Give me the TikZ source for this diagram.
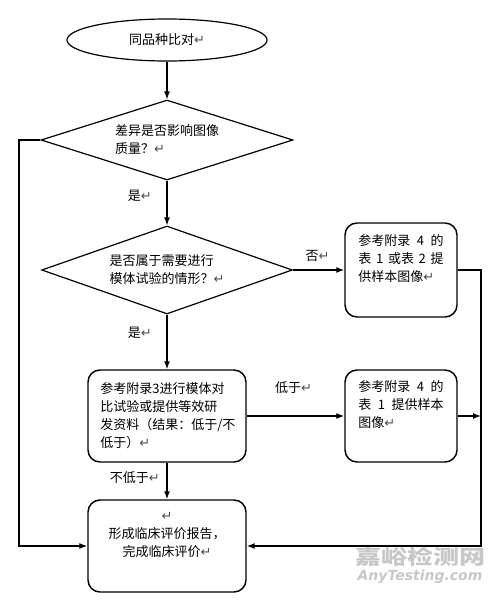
\documentclass[tikz,border=0pt]{standalone}
\usepackage{fontspec}
\setmainfont{Noto Sans CJK SC}
\newfontfamily\symfont{DejaVu Sans}
\usetikzlibrary{shapes.geometric}
\usetikzlibrary{positioning}
\usetikzlibrary{arrows.meta}
\newcommand*{\ret}{{\symfont\color{black!70}↵}}

\begin{document}
\begin{tikzpicture}[
		x=0.75pt,
		y=-0.75pt,
		font=\fontsize{9.75pt}{13.5pt}\selectfont,
		line width=0.9pt,
		>={Latex[length=6pt,width=4.5pt]},
		start/.style={ellipse, draw, minimum width=150pt, minimum height=31.5pt, inner sep=0pt},
		decision/.style={diamond, draw, aspect=3, inner sep=0pt, align=left},
		process/.style={rectangle, draw, rounded corners=9pt, line width=1.1pt, minimum height=69pt},
		lbl/.style={inner sep=2pt},
		wm/.style={text=black!22, inner sep=0pt}
	]
		\useasboundingbox (0,0) rectangle (500,603);

		\node[start] (cmp) at (167,40) {同品种比对\ret};
		\node[decision, minimum width=189pt, minimum height=60pt] (diff) at (167,140) {差异是否影响图像\\质量？\ret};
		\node[decision, minimum width=188pt, minimum height=66pt] (need) at (167,270) {是否属于需要进行\\模体试验的情形？\ret};
		\node[process, minimum width=84pt, minimum height=70.5pt, text width=64pt, align=left] (tab12) at (401,270) {参考附录\hfill 4\hfill 的\\表\hfill 1\hfill 或表\hfill 2\hfill 提\\供样本图像\ret\\\strut};
		\node[process, minimum width=118.5pt, text width=100pt, align=left] (test) at (167,416) {参考附录3进行模体对\\比试验或提供等效研\\发资料（结果：低于/不\\低于）\ret};
		\node[process, minimum width=84pt, text width=64pt, align=left] (tab1) at (401,416) {参考附录\hfill 4\hfill 的\\表\hfill 1\hfill 提供样本\\图像\ret\\\strut};
		\node[process, minimum width=118.5pt, text width=100pt, align=center] (report) at (167,546) {\ret\\形成临床评价报告，\\完成临床评价\ret\\\strut};

		\coordinate (lt) at (19,140);
		\coordinate (rt) at (481,270);

		\draw[->] (cmp) -- (diff);
		\draw[->] (diff) -- node[lbl, left=9pt, pos=0.33] {是\ret} (need);
		\draw[->] (need) -- node[lbl, above=4pt, pos=0.48] {否\ret} (tab12);
		\draw[->] (need) -- node[lbl, left=9pt, pos=0.34] {是\ret} (test);
		\draw[->] (test) -- node[lbl, above=14pt, pos=0.48] {低于\ret} (tab1);
		\draw[->] (test) -- node[lbl, left=3pt, pos=0.42] {不低于\ret} (report);
		\draw[->] (diff.west) -- (lt) |- (report.west);
		\draw[->] (tab12.east) -- (rt) |- (report.east);
		\draw[->] (tab1.east) -- (tab1.east -| rt);

		% watermark
		\node[wm, font=\fontsize{15pt}{15pt}\selectfont\bfseries, xscale=1.3] (wmcn) at (420,557) {嘉峪检测网};
		\node[wm, font=\symfont\fontsize{10.5pt}{10.5pt}\selectfont\bfseries\itshape] (wmen) at (420,577) {AnyTesting.com};
	\end{tikzpicture}
\end{document}
